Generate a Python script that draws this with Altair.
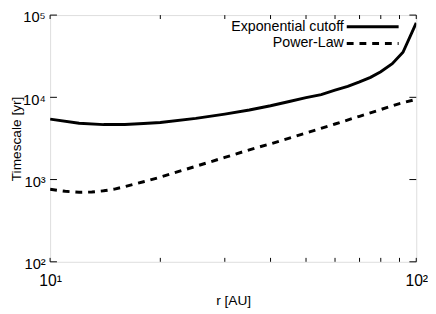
import altair as alt
import pandas as pd

# Exponential cutoff (solid)
r_exp = [10, 12, 14, 16, 18, 20, 25, 30, 35, 40, 45, 50, 55, 60, 65, 70, 75, 80, 86, 92, 100]
t_exp = [5430, 4850, 4660, 4680, 4800, 4950, 5550, 6250, 7000, 7900, 8900, 9900, 10800,
         12200, 13600, 15400, 17500, 20500, 25600, 35300, 80400]

# Power-law (dashed)
r_pl = [10, 11, 12, 13, 14, 15, 16, 17, 18, 20, 25, 30, 35, 40, 50, 60, 70, 80, 90, 100]
t_pl = [761, 720, 700, 705, 730, 765, 820, 880, 940, 1070, 1450, 1860, 2300, 2720, 3680,
        4740, 5880, 7100, 8400, 9450]

series_names = ["Exponential cutoff", "Power-Law"]

x_major = [10, 100]
x_major_labels = ["10¹", "10²"]
x_minor = [20, 30, 40, 50, 60, 70, 80, 90]
y_major = [100, 1000, 10000, 100000]
y_major_labels = ["10²", "10³", "10⁴", "10⁵"]

W, H = 374, 252
FONT = "Liberation Sans"

df = pd.DataFrame(
    {"r": r_exp + r_pl,
     "t": t_exp + t_pl,
     "series": [series_names[0]] * len(r_exp) + [series_names[1]] * len(r_pl)}
)

def label_expr(vals, labs):
    expr = "''"
    for v, l in reversed(list(zip(vals, labs))):
        expr = f"datum.value == {v} ? '{l}' : ({expr})"
    return expr

xscale = alt.Scale(type="log", domain=[10, 100], nice=False)
yscale = alt.Scale(type="log", domain=[100, 100000], nice=False)

xenc = alt.X("r:Q", scale=xscale, title="r [AU]",
             axis=alt.Axis(values=x_major, labelExpr=label_expr(x_major, x_major_labels),
                           tickSize=0, domain=False, grid=False, labelFont=FONT,
                           labelFontSize=16, labelColor="black", labelPadding=11,
                           titleFont=FONT, titleFontSize=14, titleFontWeight="normal",
                           titleColor="black", titlePadding=6, labelFlush=False))
yenc = alt.Y("t:Q", scale=yscale, title="Timescale [yr]",
             axis=alt.Axis(values=y_major, labelExpr=label_expr(y_major, y_major_labels),
                           tickSize=0, domain=False, grid=False, labelFont=FONT,
                           labelFontSize=15, labelColor="black", labelPadding=5,
                           labelOffset=2,
                           titleFont=FONT, titleFontSize=14, titleFontWeight="normal",
                           titleColor="black", titleX=-27, titleY=H / 2,
                           labelFlush=False))

base = alt.Chart(df)
solid = base.transform_filter(alt.datum.series == series_names[0]).mark_line(
    color="black", strokeWidth=3, clip=True).encode(x=xenc, y=yenc)
dashed = base.transform_filter(alt.datum.series == series_names[1]).mark_line(
    color="black", strokeWidth=3, strokeDash=[7, 6], clip=True).encode(x=xenc, y=yenc)

# inward ticks (gnuplot style)
xt_df = pd.DataFrame({"r": x_major + x_minor})
xt_bottom = alt.Chart(xt_df).mark_rule(color="black", strokeWidth=1).encode(
    x=xenc, y=alt.value(H), y2=alt.value(H - 4))
xt_top = alt.Chart(xt_df).mark_rule(color="black", strokeWidth=1).encode(
    x=xenc, y=alt.value(0), y2=alt.value(4))
yt_df = pd.DataFrame({"t": y_major})
yt_left = alt.Chart(yt_df).mark_rule(color="black", strokeWidth=1).encode(
    y=yenc, x=alt.value(0), x2=alt.value(7))
yt_right = alt.Chart(yt_df).mark_rule(color="black", strokeWidth=1).encode(
    y=yenc, x=alt.value(W), x2=alt.value(W - 7))

# legend (key sample to the right of the text, gnuplot style)
leg_rows = [12, 29]
leg_layers = []
for name, yy, dash in zip(series_names, leg_rows, [None, [7, 6]]):
    one = pd.DataFrame({"series": [name]})
    leg_layers.append(alt.Chart(one).mark_text(
        align="right", baseline="middle", font=FONT, fontSize=14.5, color="black").encode(
        text="series:N", x=alt.value(300), y=alt.value(yy)))
    rule_kw = dict(color="black", strokeWidth=3)
    if dash:
        rule_kw["strokeDash"] = dash
    leg_layers.append(alt.Chart(one).mark_rule(**rule_kw).encode(
        x=alt.value(303), x2=alt.value(356), y=alt.value(yy)))

chart = alt.layer(solid, dashed, xt_bottom, xt_top, yt_left, yt_right,
                  *leg_layers).properties(
    width=W, height=H,
    autosize=alt.AutoSizeParams(type="none"),
    padding={"left": 43, "top": 4, "right": 12, "bottom": 46},
).configure_view(stroke="black", strokeWidth=1.5).configure(background="white")

chart.save("out.html", embed_options={"renderer": "svg", "actions": False})
